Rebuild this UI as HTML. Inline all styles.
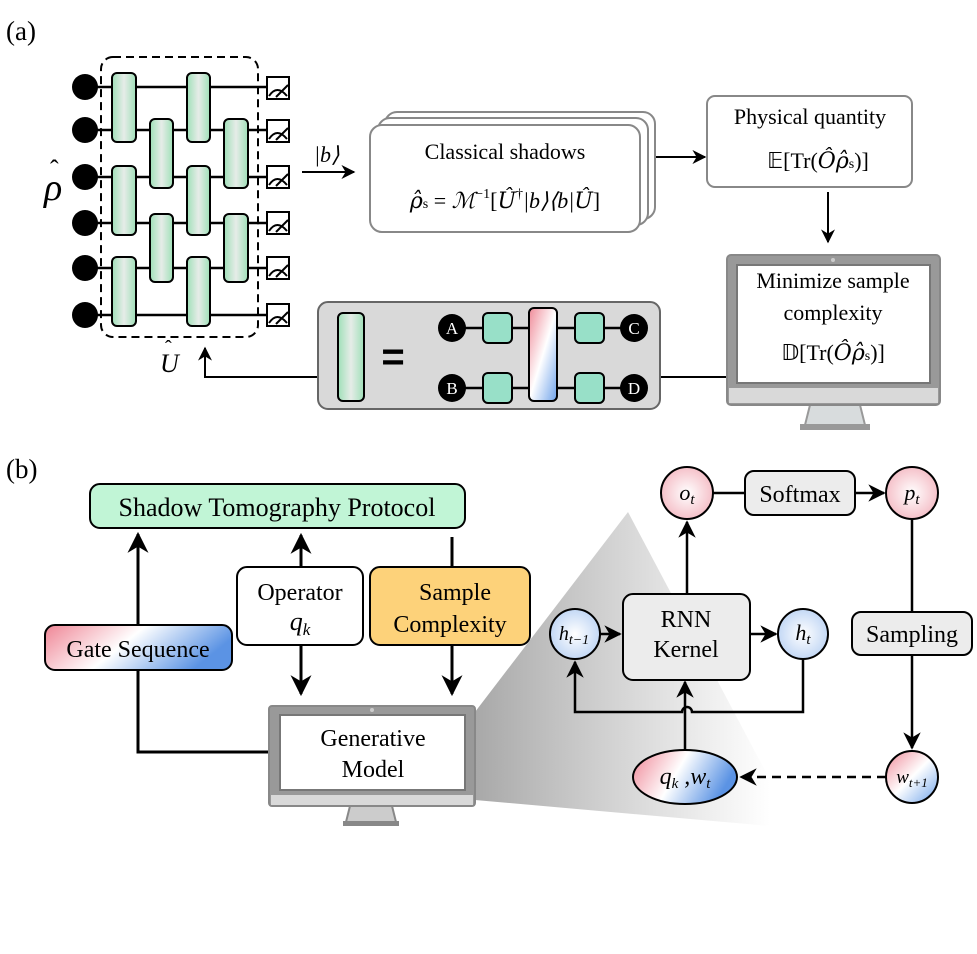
<!DOCTYPE html>
<html><head><meta charset="utf-8"><style>
html,body{margin:0;padding:0;background:#fff}
svg{display:block;font-family:"Liberation Serif",serif}
.m{font-family:"DejaVu Serif",serif;font-style:italic}
</style></head><body>
<svg width="977" height="954" viewBox="0 0 977 954" xmlns="http://www.w3.org/2000/svg">
<defs>
<linearGradient id="gg" x1="0" x2="1" y1="0" y2="0"><stop offset="0" stop-color="#9fe0b8"/><stop offset="0.5" stop-color="#e6ece8"/><stop offset="1" stop-color="#9fe0b8"/></linearGradient>
<linearGradient id="pb" x1="0" y1="0" x2="1" y2="1"><stop offset="0" stop-color="#ef8a98"/><stop offset="0.5" stop-color="#fff"/><stop offset="1" stop-color="#6fa3ea"/></linearGradient>
<linearGradient id="pbh" x1="0" y1="0" x2="1" y2="0.3"><stop offset="0" stop-color="#ef8595"/><stop offset="0.5" stop-color="#fff"/><stop offset="1" stop-color="#5b93e4"/></linearGradient>
<radialGradient id="pk" cx="0.5" cy="0.5" r="0.6"><stop offset="0" stop-color="#fff"/><stop offset="1" stop-color="#f3b4be"/></radialGradient>
<radialGradient id="bl" cx="0.5" cy="0.5" r="0.6"><stop offset="0" stop-color="#fff"/><stop offset="1" stop-color="#b7d0f3"/></radialGradient>
<linearGradient id="sh" x1="0" y1="0" x2="1" y2="0"><stop offset="0" stop-color="#a8a8a8"/><stop offset="1" stop-color="#fff" stop-opacity="0.9"/></linearGradient>
<marker id="ar" viewBox="0 0 10 10" refX="9" refY="5" markerWidth="7" markerHeight="7" orient="auto"><path d="M0,0 L10,5 L0,10 L3,5z" fill="#000"/></marker>
</defs>

<!-- (a) -->
<text x="6" y="40" font-size="27">(a)</text>
<rect x="101" y="57" width="157" height="280" rx="12" fill="none" stroke="#000" stroke-width="2" stroke-dasharray="8,5"/>
<g stroke="#000" stroke-width="2.5">
<line x1="85" y1="87" x2="266" y2="87"/><line x1="85" y1="130" x2="266" y2="130"/>
<line x1="85" y1="177" x2="266" y2="177"/><line x1="85" y1="223" x2="266" y2="223"/>
<line x1="85" y1="268" x2="266" y2="268"/><line x1="85" y1="315" x2="266" y2="315"/>
</g>
<g fill="#000">
<circle cx="85" cy="87" r="13"/><circle cx="85" cy="130" r="13"/><circle cx="85" cy="177" r="13"/>
<circle cx="85" cy="223" r="13"/><circle cx="85" cy="268" r="13"/><circle cx="85" cy="315" r="13"/>
</g>
<g fill="url(#gg)" stroke="#000" stroke-width="2">
<rect x="112" y="73" width="24" height="69" rx="5"/><rect x="112" y="166" width="24" height="69" rx="5"/><rect x="112" y="257" width="24" height="69" rx="5"/>
<rect x="150" y="119" width="23" height="69" rx="5"/><rect x="150" y="214" width="23" height="68" rx="5"/>
<rect x="187" y="73" width="23" height="69" rx="5"/><rect x="187" y="166" width="23" height="69" rx="5"/><rect x="187" y="257" width="23" height="69" rx="5"/>
<rect x="224" y="119" width="24" height="69" rx="5"/><rect x="224" y="214" width="24" height="68" rx="5"/>
</g>
<g fill="#fff" stroke="#000" stroke-width="2">
<rect x="267" y="77" width="22" height="22"/><rect x="267" y="120" width="22" height="22"/><rect x="267" y="166" width="22" height="22"/>
<rect x="267" y="212" width="22" height="22"/><rect x="267" y="257" width="22" height="22"/><rect x="267" y="304" width="22" height="22"/>
</g>
<g fill="none" stroke="#000" stroke-width="2">
<path d="M269,96 Q277,84 287,96 M276,97 L288,85"/><path d="M269,139 Q277,127 287,139 M276,140 L288,128"/>
<path d="M269,185 Q277,173 287,185 M276,186 L288,174"/><path d="M269,231 Q277,219 287,231 M276,232 L288,220"/>
<path d="M269,276 Q277,264 287,276 M276,277 L288,265"/><path d="M269,323 Q277,311 287,323 M276,324 L288,312"/>
</g>
<text x="44" y="200" font-size="38" font-style="italic">ρ</text>
<text x="50" y="178" font-size="26">ˆ</text>
<text x="160" y="372" font-size="26" font-style="italic">U</text>
<text x="165" y="354" font-size="20">ˆ</text>
<path d="M318,377 L205,377 L205,348" fill="none" stroke="#000" stroke-width="2" marker-end="url(#ar)"/>
<line x1="660" y1="377" x2="728" y2="377" stroke="#000" stroke-width="2"/>

<line x1="302" y1="172" x2="354" y2="172" stroke="#000" stroke-width="2" marker-end="url(#ar)"/>
<text x="314" y="162" font-size="22" font-style="italic">|b⟩</text>
<rect x="385" y="112" width="270" height="107" rx="12" fill="#fff" stroke="#888" stroke-width="2"/>
<rect x="378" y="118" width="270" height="107" rx="12" fill="#fff" stroke="#888" stroke-width="2"/>
<rect x="370" y="125" width="270" height="107" rx="12" fill="#fff" stroke="#888" stroke-width="2"/>
<text x="505" y="159" font-size="22" text-anchor="middle">Classical shadows</text>
<text x="505" y="208" font-size="22" text-anchor="middle"><tspan class="m">ρ̂</tspan><tspan font-size="14">s</tspan> = <tspan font-style="italic">ℳ</tspan><tspan font-size="14" dy="-10">−1</tspan><tspan dy="10">[</tspan><tspan class="m">Û</tspan><tspan font-size="14" dy="-10">†</tspan><tspan dy="10" font-style="italic">|b⟩⟨b|</tspan><tspan class="m">Û</tspan>]</text>
<line x1="656" y1="157" x2="705" y2="157" stroke="#000" stroke-width="2" marker-end="url(#ar)"/>
<rect x="707" y="96" width="205" height="91" rx="8" fill="#fff" stroke="#888" stroke-width="2"/>
<text x="810" y="124" font-size="22" text-anchor="middle">Physical quantity</text>
<text x="818" y="168" font-size="22" text-anchor="middle">𝔼[Tr(<tspan class="m">Ôρ̂</tspan><tspan font-size="14">s</tspan>)]</text>
<line x1="828" y1="192" x2="828" y2="242" stroke="#000" stroke-width="2" marker-end="url(#ar)"/>

<!-- monitor a -->
<path d="M810,405 L860,405 L865,425 L805,425Z" fill="#d8dcdd" stroke="#999" stroke-width="2"/>
<rect x="800" y="424" width="70" height="6" fill="#999"/>
<rect x="727" y="255" width="213" height="150" rx="4" fill="#999" stroke="#888" stroke-width="2"/>
<rect x="729" y="388" width="209" height="15" fill="#d9d9d9"/>
<rect x="737" y="265" width="193" height="118" fill="#fff" stroke="#777" stroke-width="2"/>
<circle cx="833" cy="260" r="2" fill="#ccc"/>
<text x="833" y="288" font-size="22" text-anchor="middle">Minimize sample</text>
<text x="833" y="320" font-size="22" text-anchor="middle">complexity</text>
<text x="833" y="360" font-size="22" text-anchor="middle">𝔻[Tr(<tspan class="m">Ôρ̂</tspan><tspan font-size="14">s</tspan>)]</text>

<!-- gray box -->
<rect x="318" y="302" width="342" height="107" rx="10" fill="#d9d9d9" stroke="#666" stroke-width="2"/>
<rect x="338" y="313" width="26" height="88" rx="5" fill="url(#gg)" stroke="#000" stroke-width="2"/>
<text x="393" y="370" font-size="40" font-weight="bold" text-anchor="middle" font-family="Liberation Sans">=</text>
<g stroke="#000" stroke-width="2.5"><line x1="452" y1="328" x2="633" y2="328"/><line x1="452" y1="388" x2="633" y2="388"/></g>
<g fill="#000"><circle cx="452" cy="328" r="14"/><circle cx="452" cy="388" r="14"/><circle cx="634" cy="328" r="14"/><circle cx="634" cy="388" r="14"/></g>
<g fill="#fff" font-size="17" text-anchor="middle"><text x="452" y="334">A</text><text x="452" y="394">B</text><text x="634" y="334">C</text><text x="634" y="394">D</text></g>
<g fill="#98e0c8" stroke="#000" stroke-width="2">
<rect x="483" y="313" width="29" height="30" rx="5"/><rect x="483" y="373" width="29" height="30" rx="5"/>
<rect x="575" y="313" width="29" height="30" rx="5"/><rect x="575" y="373" width="29" height="30" rx="5"/>
</g>
<rect x="529" y="308" width="28" height="93" rx="5" fill="url(#pb)" stroke="#000" stroke-width="2"/>

<!-- (b) -->
<text x="6" y="478" font-size="27">(b)</text>
<polygon points="475,712 628,512 770,780 770,826 475,800" fill="url(#sh)"/>
<rect x="90" y="484" width="375" height="44" rx="10" fill="#c1f5d6" stroke="#000" stroke-width="2"/>
<text x="277" y="516" font-size="26" text-anchor="middle">Shadow Tomography  Protocol</text>
<path d="M138,670 L138,752 L270,752" fill="none" stroke="#000" stroke-width="3"/>
<line x1="138" y1="625" x2="138" y2="534" stroke="#000" stroke-width="3" marker-end="url(#ar)"/>
<rect x="45" y="625" width="187" height="45" rx="10" fill="url(#pbh)" stroke="#000" stroke-width="2"/>
<text x="138" y="657" font-size="24" text-anchor="middle">Gate Sequence</text>
<line x1="301" y1="567" x2="301" y2="535" stroke="#000" stroke-width="3" marker-end="url(#ar)"/>
<line x1="301" y1="645" x2="301" y2="694" stroke="#000" stroke-width="3" marker-end="url(#ar)"/>
<rect x="237" y="567" width="126" height="78" rx="10" fill="#fff" stroke="#000" stroke-width="2"/>
<text x="300" y="600" font-size="24" text-anchor="middle">Operator</text>
<text x="300" y="630" font-size="26" text-anchor="middle" font-style="italic">q<tspan font-size="17" dy="5">k</tspan></text>
<line x1="452" y1="537" x2="452" y2="567" stroke="#000" stroke-width="3"/>
<line x1="452" y1="645" x2="452" y2="694" stroke="#000" stroke-width="3" marker-end="url(#ar)"/>
<rect x="370" y="567" width="160" height="78" rx="10" fill="#fdd27a" stroke="#000" stroke-width="2"/>
<text x="455" y="600" font-size="24" text-anchor="middle">Sample</text>
<text x="450" y="632" font-size="24" text-anchor="middle">Complexity</text>

<!-- monitor b -->
<path d="M350,806 L392,806 L396,822 L346,822Z" fill="#ccc" stroke="#888" stroke-width="2"/>
<rect x="343" y="821" width="56" height="5" fill="#888"/>
<rect x="269" y="706" width="206" height="100" rx="3" fill="#999" stroke="#888" stroke-width="2"/>
<rect x="271" y="795" width="202" height="10" fill="#d9d9d9"/>
<rect x="280" y="715" width="185" height="75" fill="#fff" stroke="#777" stroke-width="2"/>
<circle cx="372" cy="710" r="2" fill="#ccc"/>
<text x="373" y="746" font-size="24" text-anchor="middle">Generative</text>
<text x="373" y="777" font-size="24" text-anchor="middle">Model</text>

<!-- RNN -->
<g stroke="#000" stroke-width="2.5" fill="none">
<line x1="713" y1="493" x2="745" y2="493"/>
<line x1="855" y1="493" x2="884" y2="493" marker-end="url(#ar)"/>
<line x1="687" y1="593" x2="687" y2="522" marker-end="url(#ar)"/>
<line x1="912" y1="519" x2="912" y2="612"/>
<line x1="912" y1="655" x2="912" y2="748" marker-end="url(#ar)"/>
<line x1="600" y1="634" x2="620" y2="634" marker-end="url(#ar)"/>
<line x1="750" y1="634" x2="776" y2="634" marker-end="url(#ar)"/>
<path d="M803,659 L803,712 L692,712 A5,5 0 0 0 682,712 L575,712 L575,662" marker-end="url(#ar)"/>
<line x1="685" y1="750" x2="685" y2="682" marker-end="url(#ar)"/>
<line x1="886" y1="777" x2="741" y2="777" stroke-dasharray="9,6" marker-end="url(#ar)"/>
</g>
<circle cx="687" cy="493" r="26" fill="url(#pk)" stroke="#000" stroke-width="2"/>
<text x="687" y="500" font-size="22" text-anchor="middle" font-style="italic">o<tspan font-size="15" dy="4">t</tspan></text>
<rect x="745" y="471" width="110" height="44" rx="9" fill="#ececec" stroke="#000" stroke-width="2"/>
<text x="800" y="502" font-size="24" text-anchor="middle">Softmax</text>
<circle cx="912" cy="493" r="26" fill="url(#pk)" stroke="#000" stroke-width="2"/>
<text x="912" y="500" font-size="22" text-anchor="middle" font-style="italic">p<tspan font-size="15" dy="4">t</tspan></text>
<rect x="623" y="594" width="127" height="86" rx="10" fill="#ececec" stroke="#000" stroke-width="2"/>
<text x="686" y="627" font-size="24" text-anchor="middle">RNN</text>
<text x="686" y="657" font-size="24" text-anchor="middle">Kernel</text>
<circle cx="575" cy="634" r="25" fill="url(#bl)" stroke="#000" stroke-width="2"/>
<text x="574" y="640" font-size="20" text-anchor="middle" font-style="italic">h<tspan font-size="14" dy="4">t−1</tspan></text>
<circle cx="803" cy="634" r="25" fill="url(#bl)" stroke="#000" stroke-width="2"/>
<text x="803" y="640" font-size="22" text-anchor="middle" font-style="italic">h<tspan font-size="15" dy="4">t</tspan></text>
<rect x="852" y="612" width="120" height="43" rx="9" fill="#ececec" stroke="#000" stroke-width="2"/>
<text x="912" y="642" font-size="24" text-anchor="middle">Sampling</text>
<circle cx="912" cy="777" r="26" fill="url(#pb)" stroke="#000" stroke-width="2"/>
<text x="912" y="783" font-size="19" text-anchor="middle" font-style="italic">w<tspan font-size="13" dy="4">t+1</tspan></text>
<ellipse cx="685" cy="777" rx="52" ry="27" fill="url(#pbh)" stroke="#000" stroke-width="2"/>
<text x="685" y="784" font-size="24" text-anchor="middle" font-style="italic">q<tspan font-size="15" dy="4">k</tspan><tspan dy="-4"> ,w</tspan><tspan font-size="15" dy="4">t</tspan></text>
</svg>
</body></html>
